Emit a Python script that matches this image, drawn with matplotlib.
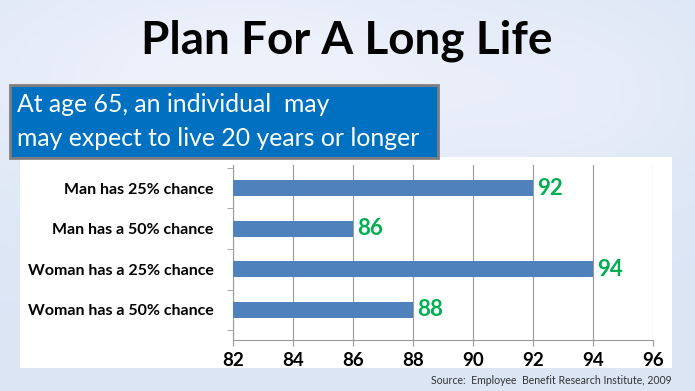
import matplotlib
matplotlib.use("Agg")
import matplotlib.pyplot as plt
import numpy as np
from matplotlib.patches import Rectangle

categories = ["Man has 25% chance", "Man has a 50% chance",
              "Woman has a 25% chance", "Woman has a 50% chance"]
values = [92, 86, 94, 88]
xticks = [82, 84, 86, 88, 90, 92, 94, 96]
title = "Plan For A Long Life"
box_lines = ["At age 65, an individual  may", "may expect to live 20 years or longer"]
source = "Source:  Employee  Benefit Research Institute, 2009"

FONT = "Lato"
W, H = 695, 391
fig = plt.figure(figsize=(W / 100, H / 100), dpi=100)

# background gradient
bg = fig.add_axes([0, 0, 1, 1])
yy, xx = np.mgrid[0:1:200j, 0:1:350j]
base = np.array([0.86, 0.90, 0.96])
light = np.array([0.95, 0.96, 0.99])
blob = np.exp(-(((xx - 0.35) / 0.45) ** 2 + ((yy - 0.2) / 0.35) ** 2))
blob2 = np.exp(-(((xx - 0.85) / 0.2) ** 2 + ((yy - 0.25) / 0.25) ** 2))
w = np.clip(blob * 0.8 + blob2 * 0.3, 0, 1)[..., None]
img = base * (1 - w) + light * w
bg.imshow(img, extent=[0, W, H, 0], aspect="auto")
bg.set_xlim(0, W)
bg.set_ylim(H, 0)
bg.axis("off")

# white panel
bg.add_patch(Rectangle((20, 157), 652, 211, facecolor="white", edgecolor="none", zorder=2))
# blue box
bg.add_patch(Rectangle((10, 85), 428, 73, facecolor="#0070c0", edgecolor="#7f7f7f", lw=2, zorder=3))
bg.text(17, 105, box_lines[0], color="white", fontsize=17.8, family=FONT,
        va="center", ha="left", zorder=4)
bg.text(17, 138, box_lines[1], color="white", fontsize=17.8, family=FONT,
        va="center", ha="left", zorder=4)
bg.text(347, 41, title, fontsize=33, fontweight="bold", family=FONT,
        ha="center", va="center", color="black")
bg.text(672, 381, source, fontsize=7.6, color="#333333", ha="right", va="center",
        family=FONT)

# chart axes
x0, x1 = 233, 653
y0, y1 = 165, 340
ax = fig.add_axes([x0 / W, 1 - y1 / H, (x1 - x0) / W, (y1 - y0) / H])
ax.set_facecolor("none")
ypos = np.arange(len(categories))
ax.barh(ypos, [v - xticks[0] for v in values], left=xticks[0], height=0.4,
        color="#4f81bd", zorder=3)
for y, v in zip(ypos, values):
    ax.text(v + 0.15, y, str(v), color="#00b050", fontsize=16, fontweight="bold",
            va="center", ha="left", family=FONT, zorder=4)
ax.set_xlim(xticks[0], xticks[-1])
ax.set_ylim(3.74, -0.57)
ax.set_xticks(xticks)
ax.set_xticklabels([str(t) for t in xticks], fontsize=13.5, fontweight="bold", family=FONT)
ax.set_yticks(ypos)
ax.set_yticklabels(categories, fontsize=11.5, fontweight="bold", family=FONT)
ax.tick_params(axis="y", length=0, pad=14)
ax.set_yticks(np.arange(len(categories) + 1) - 0.5, minor=True)
ax.tick_params(axis="y", which="minor", length=4, color="#999999", direction="out")
ax.tick_params(axis="x", length=4, color="#999999", pad=5)
ax.grid(axis="x", color="#999999", lw=0.8, zorder=0)
for s in ["top", "right"]:
    ax.spines[s].set_visible(False)
for s in ["left", "bottom"]:
    ax.spines[s].set_color("#999999")

fig.savefig("out.png", dpi=100)
